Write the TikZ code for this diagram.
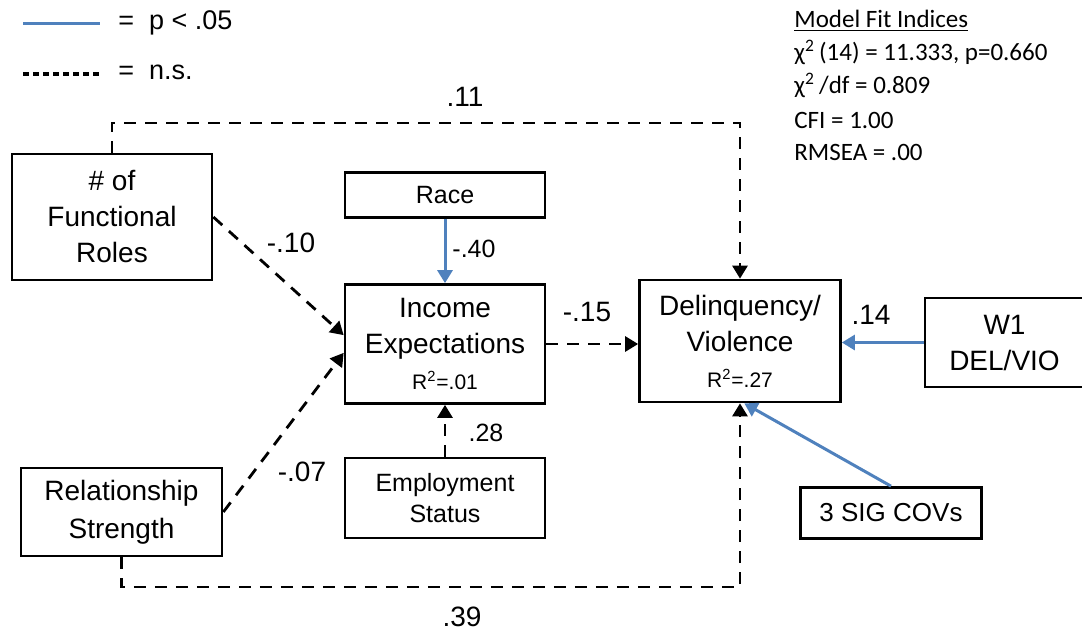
\documentclass[tikz,border=0pt]{standalone}
\usepackage{fontspec}
\setmainfont{Liberation Sans}
\newfontfamily\fitfont{Carlito}
\usetikzlibrary{arrows.meta,positioning}
\definecolor{sigblue}{RGB}{79,129,189}
\newcommand{\rsqfont}{\fontsize{10.5}{12}\selectfont}

\begin{document}
\begin{tikzpicture}[x=0.5pt,y=-0.5pt,
        varbox/.style={draw, line width=1.35pt, align=center, inner sep=0pt, font=\fontsize{14}{18}\selectfont},
        smallbox/.style={varbox, font=\fontsize{12.5}{15.5}\selectfont},
        nspath/.style={draw, line width=1.4pt, dash pattern=on 6pt off 4.5pt, -{Triangle[length=6.5pt,width=7.5pt]}},
        sigpath/.style={draw=sigblue, line width=1.5pt, -{Triangle[length=6.5pt,width=7.5pt]}},
        coef/.style={inner sep=0pt, font=\fontsize{14}{16}\selectfont},
        smallcoef/.style={inner sep=0pt, font=\fontsize{12.5}{15}\selectfont},
        fitline/.style={anchor=base west, inner sep=0pt, font=\fitfont\fontsize{12.5}{14}\selectfont}
        ]
        \useasboundingbox (0,0) rectangle (1082,633);

        % legend
        \coordinate (sigA) at (23,23);
        \coordinate (sigB) at (100,23);
        \coordinate (nsA) at (23,74);
        \coordinate (nsB) at (100,74);
        \draw[line width=1.5pt, draw=sigblue] (sigA) -- (sigB);
        \draw[line width=1.8pt, dash pattern=on 3pt off 2pt] (nsA) -- (nsB);
        \node[anchor=west, inner sep=0pt, font=\fontsize{13.5}{16}\selectfont] (sigkey) at (118,23) {=\ \ p < .05};
        \node[anchor=west, inner sep=0pt, font=\fontsize{13.5}{16}\selectfont] (nskey)  at (118,72) {=\ \ n.s.};

        % model fit
        \node[fitline] (fit0) at (794,27)  {\underline{Model Fit Indices}};
        \node[fitline] (fit1) at (794,60)  {χ\textsuperscript{2}\,(14) = 11.333, p=0.660};
        \node[fitline] (fit2) at (794,93)  {χ\textsuperscript{2}\,/df = 0.809};
        \node[fitline] (fit3) at (794,128) {CFI = 1.00};
        \node[fitline] (fit4) at (794,160) {RMSEA = .00};

        % variables
        \node[varbox, minimum width=100pt, minimum height=63pt]    (roles)  at (112,217)   {\# of\\Functional\\Roles};
        \node[smallbox, minimum width=100pt, minimum height=22.5pt] (race)  at (445,195)   {Race};
        \node[varbox, minimum width=100pt, minimum height=59.5pt]  (income) at (445,344)   {Income\\Expectations\\{\rsqfont R\textsuperscript{2}=.01}};
        \node[smallbox, minimum width=100pt, minimum height=40pt]  (employ) at (445,498)   {Employment\\Status};
        \node[varbox, font=\fontsize{14}{19}\selectfont, minimum width=100.5pt, minimum height=44pt] (rel) at (121.5,512) {Relationship\\Strength};
        \node[varbox, minimum width=100.5pt, minimum height=61pt]  (delinq) at (740,341)   {Delinquency/\\Violence\\{\rsqfont R\textsuperscript{2}=.27}};
        \node[varbox, minimum width=79.5pt, minimum height=44.5pt] (w1)     at (1004.5,342.5) {W1\\DEL/VIO};
        \node[smallbox, font=\fontsize{13}{15}\selectfont, minimum width=90.5pt, minimum height=25.5pt] (covs) at (891,513) {3 SIG COVs};

        % rails
        \coordinate (toprail) at (0,123);
        \coordinate (botrail) at (0,587);
        \draw[nspath] (roles.north) -- (roles.north |- toprail) -| (delinq.north);
        \draw[nspath] (rel.south) -- (rel.south |- botrail) -| (delinq.south);

        % paths
        \path
        (roles.east)    edge[nspath]    (income.175)
        (rel.east)      edge[nspath]    (income.185)
        (employ.north)  edge[nspath]    (income.south)
        (income.east)   edge[nspath]    (income.east -| delinq.west)
        (race.south)    edge[sigpath]   (income.north)
        (w1.west)       edge[sigpath]   (w1.west -| delinq.east)
        (covs.north)    edge[sigpath]   (delinq.-86);

        % coefficients
        \node[coef]      (c11)  at (465,97)  {.11};
        \node[coef]      (c39)  at (462,617) {.39};
        \node[coef]      (c10)  at (291,243) {-.10};
        \node[coef]      (c07)  at (302,472) {-.07};
        \node[coef]      (c15)  at (587,312) {-.15};
        \node[coef]      (c14)  at (871,315) {.14};
        \node[smallcoef] (c40)  at (474,249) {-.40};
        \node[smallcoef] (c28)  at (486,433) {.28};
    \end{tikzpicture}
\end{document}
